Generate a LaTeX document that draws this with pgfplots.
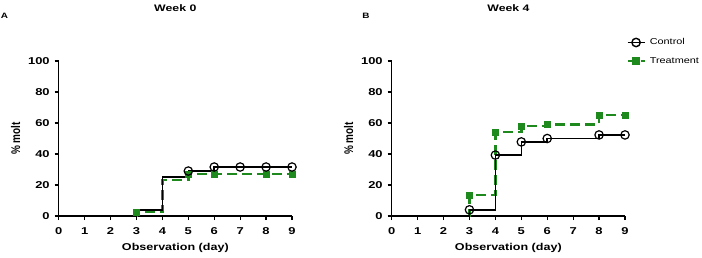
\documentclass[border=0pt]{standalone}
\usepackage{graphicx}
\usepackage{pgfplots}
\pgfplotsset{compat=1.18}
\usepackage{fontspec}
\setmainfont{Liberation Sans}
\definecolor{tgreen}{RGB}{30,138,30}
\newcommand{\sx}[1]{\scalebox{1.3}[1]{#1}}
\pgfplotsset{
  panel/.style={
    scale only axis, width=233.3bp, height=155bp,
    xmin=0, xmax=9, ymin=0, ymax=100,
    axis lines*=left, axis line style={line width=1.4bp, black},
    xtick={0,...,9}, ytick={0,20,...,100},
    tick align=outside, major tick length=4bp,
    tick style={line width=1.2bp, black},
    tick label style={font=\fontsize{10}{10}\selectfont\bfseries},
    xticklabel={\sx{\pgfmathprintnumber[assume math mode=true]{\tick}}},
    yticklabel={\sx{\pgfmathprintnumber[assume math mode=true]{\tick}}},
    xticklabel style={yshift=-4bp},
    yticklabel style={xshift=-1.5bp},
    label style={font=\fontsize{10}{11}\selectfont\bfseries},
    xlabel={\scalebox{1.26}[1]{Observation (day)}}, ylabel={\scalebox{1}[1.26]{\% molt}},
    x label style={at={(axis description cs:0.5,-0.206)}, anchor=center},
    y label style={at={(axis description cs:-0.185,0.5)}, anchor=center},
    clip=false,
  },
  ctrl/.style={black, line width=1.6bp},
  ctrlmk/.style={black, line width=1.2bp, only marks, mark=o, mark size=4.2bp, mark options={fill=white, solid}},
  trt/.style={tgreen, line width=2.4bp, dash pattern=on 10bp off 5bp},
  trtmk/.style={tgreen, only marks, mark=square*, mark size=3bp, mark options={solid}},
}
\begin{document}
\begin{tikzpicture}
\path[use as bounding box] (0,0) rectangle (702bp,258bp);
\node[font=\fontsize{7.8}{8}\selectfont\bfseries, xscale=1.28] at (4.5bp,242.3bp) {A};
\node[font=\fontsize{7.8}{8}\selectfont\bfseries, xscale=1.28] at (366bp,242.3bp) {B};
\node[font=\fontsize{9.5}{10}\selectfont\bfseries, xscale=1.3] at (175.3bp,250.2bp) {Week 0};
\node[font=\fontsize{9.5}{10}\selectfont\bfseries, xscale=1.3] at (508.5bp,250.2bp) {Week 4};
% Panel A
\begin{axis}[panel, at={(58.7bp,42bp)}, anchor=origin]
\addplot[trt, const plot] coordinates {(0,0) (3,2.5) (4,23.4) (5,27) (9,27)};
\addplot[trtmk] coordinates {(3,2.5) (5,27) (6,27) (8,27) (9,27)};
\addplot[ctrl, const plot] coordinates {(0,0) (3,3.8) (4,25.2) (5,29) (6,31.6) (9,31.6)};
\addplot[ctrlmk] coordinates {(5,29) (6,31.6) (7,31.6) (8,31.6) (9,31.6)};
\end{axis}
% Panel B
\begin{axis}[panel, at={(391.7bp,42bp)}, anchor=origin,
  legend style={draw=none, fill=none, at={(1.005,1.152)}, anchor=north west,
    font=\fontsize{8.6}{8.6}\selectfont, inner sep=0pt, row sep=9bp,
    nodes={inner sep=1bp}},
  legend cell align=left,
  legend image code/.code={
    \draw[#1] (0bp,0bp) -- (17bp,0bp);
    \draw[#1, only marks, solid] plot coordinates {(8.5bp,0bp)};
    \path (20bp,0bp);
  }]
\addplot[trt, const plot, forget plot] coordinates {(0,0) (3,13.4) (4,54) (5,58) (6,59) (8,65) (9,65)};
\addplot[trtmk, forget plot] coordinates {(3,13.4) (4,54) (5,58) (6,59) (8,65) (9,65)};
\addplot[ctrl, const plot, forget plot] coordinates {(0,0) (3,4) (4,39.3) (5,47.8) (6,50) (8,52.3) (9,52.3)};
\addplot[ctrlmk, forget plot] coordinates {(3,4) (4,39.3) (5,47.8) (6,50) (8,52.3) (9,52.3)};
\addlegendimage{black, line width=1.4bp, mark=o, mark size=4.2bp, mark options={fill=white, solid}}
\addlegendentry{\scalebox{1.27}[1]{Control}}
\addlegendimage{tgreen, line width=2.4bp, dash pattern=on 4bp off 2.5bp, mark=square*, mark size=3bp, mark options={solid}}
\addlegendentry{\scalebox{1.27}[1]{Treatment}}
\end{axis}
\end{tikzpicture}
\end{document}
